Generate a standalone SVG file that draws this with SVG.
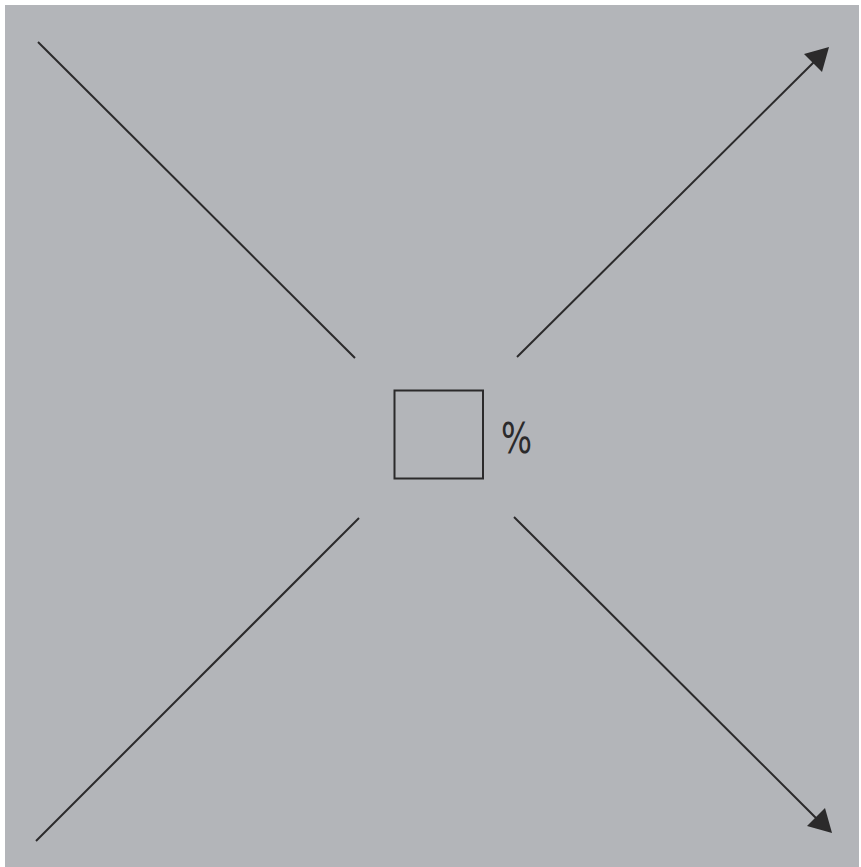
<svg xmlns="http://www.w3.org/2000/svg" width="861" height="867" viewBox="0 0 861 867">
<style>
.ln{stroke:#2b2a2b;stroke-width:2;fill:none}
.hd{fill:#2b2a2b}
.lbl{font-family:"DejaVu Sans Condensed","Liberation Sans",sans-serif;font-size:42px;fill:#2b2a2b}
</style>
<rect x="0" y="0" width="861" height="867" fill="#ffffff"/>
<rect x="5" y="5" width="854" height="862" fill="#b3b5b9"/>
<g id="connectors">
<line class="ln" x1="38" y1="42" x2="355" y2="358"/>
<line class="ln" x1="517" y1="357" x2="816" y2="60"/>
<polygon class="hd" points="829,47 804,54 822,72"/>
<line class="ln" x1="36" y1="841" x2="359" y2="518"/>
<line class="ln" x1="514" y1="517" x2="818" y2="820"/>
<polygon class="hd" points="832,833 807,826 825,808"/>
</g>
<g id="node-square">
<rect class="ln" x="394.5" y="390.5" width="88.5" height="88"/>
</g>
<g id="label-percent">
<text class="lbl" x="501" y="453" textLength="31" lengthAdjust="spacingAndGlyphs">%</text>
</g>
</svg>
